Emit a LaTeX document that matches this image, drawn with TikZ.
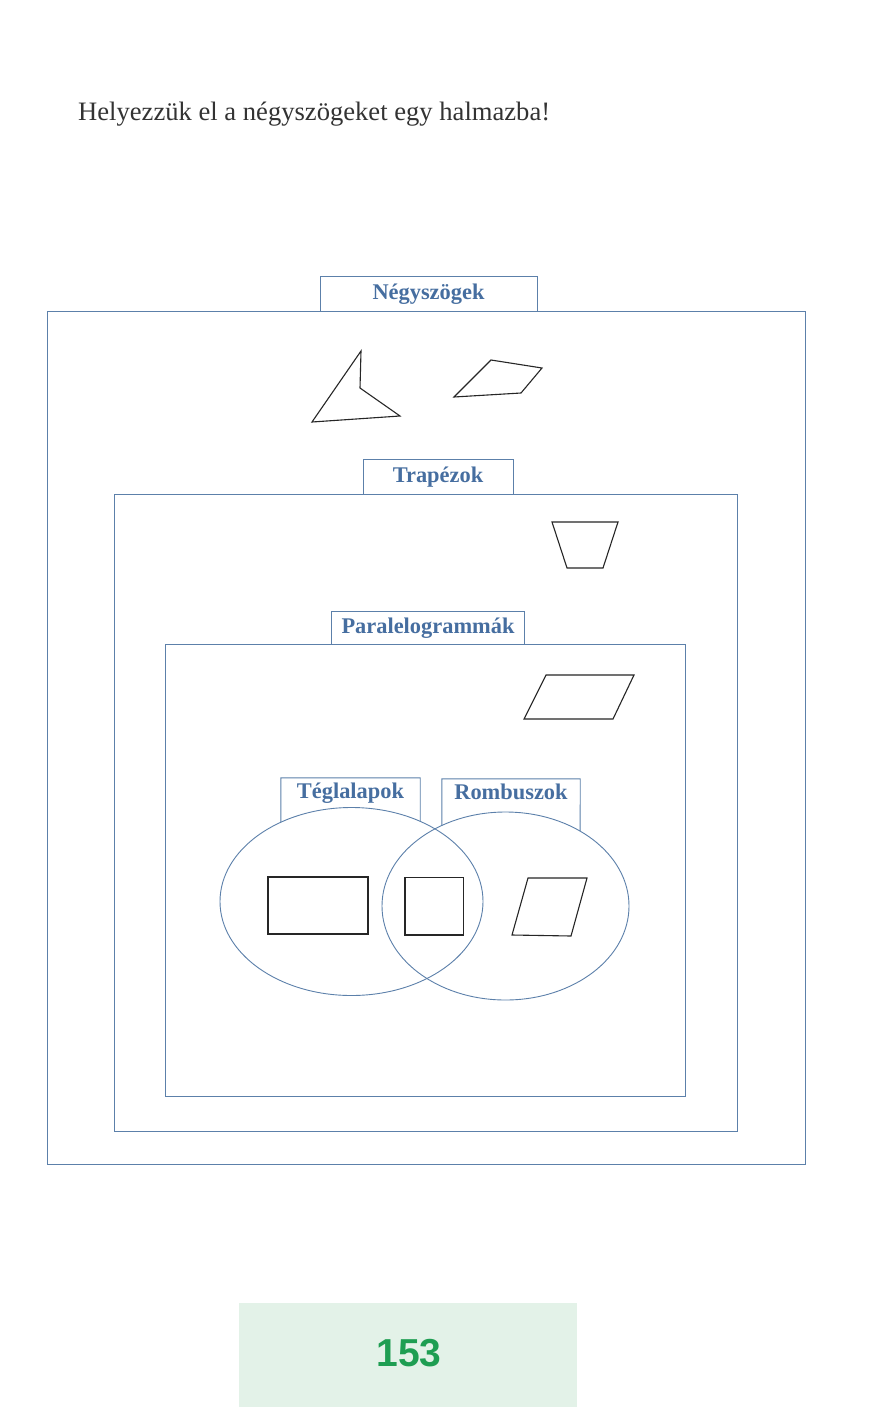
\documentclass[tikz,border=0pt]{standalone}
\usepackage{fontspec}
\setmainfont{Liberation Serif}
\newfontfamily\pagenumfont{Liberation Sans}
\usepackage{xcolor}
\usepackage{tikz}
\usetikzlibrary{intersections}
\definecolor{setblue}{RGB}{92,128,170}
\definecolor{labelblue}{RGB}{70,110,160}
\definecolor{pagegreen}{RGB}{30,158,82}
\definecolor{pagemint}{RGB}{227,242,232}
\tikzset{
	setline/.style={color=setblue, line width=0.9pt},
	shapeline/.style={color=black!85, line width=1.1pt, line join=miter},
	labeltext/.style={text=labelblue, font=\fontsize{22.4}{22.4}\selectfont\bfseries, inner sep=0pt, text height=14pt, text depth=3pt},
	setlabel/.style={labeltext, draw=setblue, line width=0.9pt, fill=white},
	venntext/.style={labeltext, minimum height=30pt},
}
\begin{document}
\begin{tikzpicture}[x=1pt, y=-1pt]
	\useasboundingbox[fill=white] (0,0) rectangle (885,1416);
	\node[anchor=base west, font=\fontsize{26.6}{26.6}\selectfont, text=black!80, inner sep=0pt] (title) at (78,120) {Helyezzük el a négyszögeket egy halmazba!};

		\draw[setline] (47,311) rectangle (805,1164);
		\node[setlabel, minimum width=217pt, minimum height=35pt] (negyszog) at (428.5,293.5) {Négyszögek};
		\draw[shapeline] (361,351) -- (360,388) -- (400,416) -- (312,422) -- cycle;
		\draw[shapeline] (491,360) -- (542,368) -- (521,393) -- (454,397) -- cycle;

		\draw[setline] (114,494) rectangle (737,1131);
		\node[setlabel, minimum width=150pt, minimum height=35pt] (trapez) at (438,476.5) {Trapézok};
		\draw[shapeline] (552,522) -- (618,522) -- (603,568) -- (567,568) -- cycle;

		\draw[setline] (165,644.5) rectangle (685,1096);
		\node[setlabel, minimum width=193pt, minimum height=33.5pt] (paralel) at (428,627.75) {Paralelogrammák};
		\draw[shapeline] (546,675) -- (634,675) -- (613,719) -- (524,719) -- cycle;

		\draw[setline, name path=tegla] (351.5,901.5) ellipse [x radius=131.5pt, y radius=94pt];
		\draw[setline, name path=rombusz] (505.5,906) ellipse [x radius=123.5pt, y radius=94pt];
		\node[venntext, minimum width=139pt] (teglalab) at (350.5,793) {Téglalapok};
		\node[venntext, minimum width=138pt] (rombuszlab) at (511,794) {Rombuszok};
		\path[name path=tlside] (teglalab.north west) -- ++(0,70);
		\path[name path=trside] (teglalab.north east) -- ++(0,70);
		\path[name path=rlside] (rombuszlab.north west) -- ++(0,70);
		\path[name path=rrside] (rombuszlab.north east) -- ++(0,70);
		\path[name intersections={of=tlside and tegla, by=tlfoot}];
		\path[name intersections={of=trside and tegla, by=trfoot}];
		\path[name intersections={of=rlside and rombusz, by=rlfoot}];
		\path[name intersections={of=rrside and rombusz, by=rrfoot}];
		\draw[setline] (tlfoot) -- (teglalab.north west) -- (teglalab.north east) -- (trfoot);
		\draw[setline] (rlfoot) -- (rombuszlab.north west) -- (rombuszlab.north east) -- (rrfoot);
		\draw[shapeline] (268,877) rectangle (368,934);
		\draw[shapeline] (405,877.5) rectangle (463.5,935);
		\draw[shapeline] (528,878) -- (587,878) -- (571,936) -- (512,935) -- cycle;

		\fill[pagemint] (239,1303) rectangle (577,1407);
		\node[anchor=base, text=pagegreen, font=\pagenumfont\fontsize{39}{39}\selectfont\bfseries, inner sep=0pt] (oldalszam) at (409,1366) {153};
	\end{tikzpicture}
\end{document}
